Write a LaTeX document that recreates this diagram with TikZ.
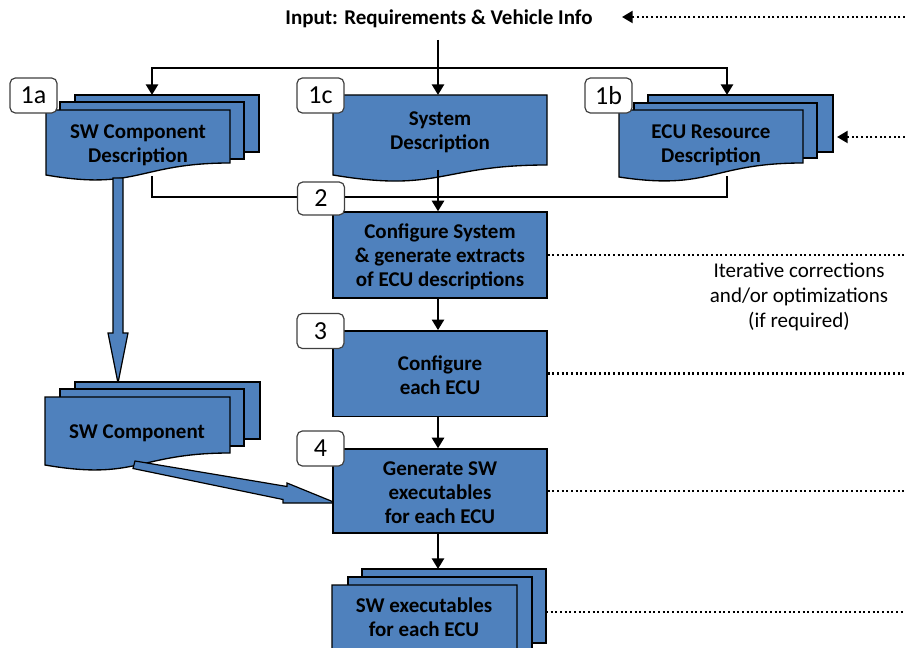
\documentclass[tikz,border=0pt]{standalone}
\usepackage{fontspec}
\setmainfont{Carlito}
\usetikzlibrary{arrows.meta}
\definecolor{docblue}{HTML}{4F81BD}
\definecolor{taggray}{HTML}{404040}

% front sheet of a document symbol: x, top, width, right bottom, left bottom
\newcommand\wavesheet[5]{%
  \filldraw[layer] (#1,#2) -- (#1+#3,#2) -- (#1+#3,#4)
    .. controls (#1+#3/2,#4) and (#1+#3/2,#4+28) .. (#1,#5) -- cycle;}
% plain back sheet: x1, y1, x2, y2
\newcommand\backsheet[4]{%
  \filldraw[layer] (#1,#2) rectangle (#3,#4);}

\begin{document}
\begin{tikzpicture}[x=0.75pt,y=-0.75pt,
  layer/.style={draw=black, line width=1pt, fill=docblue, line join=miter},
  box/.style={draw=black, line width=1pt, fill=docblue, inner sep=0pt,
    minimum width=160.5pt, txt},
  txt/.style={font=\fontsize{15.75}{18}\selectfont\bfseries, align=center, text=black},
  plain/.style={font=\fontsize{15.75}{18.75}\selectfont, align=center, text=black},
  link/.style={line width=2pt, line join=miter},
  flow/.style={link, -{Triangle[length=8pt,width=9pt]}},
  dots/.style={line width=1.6pt, dash pattern=on 1.4pt off 2.1pt},
  dotflow/.style={dots, -{Triangle[length=8pt,width=9pt]}},
  tag/.style={draw=taggray, line width=0.9pt, fill=white, rounded corners=4pt,
    minimum width=35.25pt, minimum height=26.25pt, inner sep=0pt,
    font=\fontsize{19.5}{21}\selectfont},
  blockarrow/.style={draw=black, line width=0.9pt, fill=docblue, line join=miter}
]
\useasboundingbox (0,0) rectangle (905,648);

% ---- input line ----
\node[txt] (input) at (439,18.5) {Input: Requirements \& Vehicle Info};
\coordinate (in-foot) at (438,40);
\coordinate (split) at (438,68);
\coordinate (in-tip) at (622,17);
\coordinate (in-east) at (905,17);
\coordinate (edge) at (905,0);

% ---- 1a: SW component description (stack) ----
\backsheet{75}{95}{259}{152}
\backsheet{60}{102}{244}{159}
\wavesheet{46}{110}{184}{163}{175}
\node[txt] (swcd) at (138,145.5) {SW Component\\Description};
\coordinate (swcd-top) at (152,95);
\coordinate (swcd-bot) at (152,176);

% ---- 1c: system description ----
\wavesheet{333}{95}{214}{165}{175}
\node[txt] (sysd) at (440,132) {System\\Description};
\coordinate (sysd-top) at (438,95);
\coordinate (sysd-bot) at (438,170);

% ---- 1b: ECU resource description (stack) ----
\backsheet{648}{95}{833}{152}
\backsheet{634}{103}{817}{158}
\wavesheet{619}{110}{184}{163}{177}
\node[txt] (ecud) at (711,145.5) {ECU Resource\\Description};
\coordinate (ecud-top) at (727,95);
\coordinate (ecud-bot) at (727,176);
\coordinate (ecud-tip) at (837,137);
\coordinate (ecud-east) at (905,137);
\coordinate (row) at (0,197);

% ---- block arrow down to the SW component ----
\filldraw[blockarrow] (113,178) -- (123,178) -- (123,333) -- (128,333)
  -- (118,383) -- (108,333) -- (113,333) -- cycle;

% ---- SW component (stack) ----
\backsheet{75}{382}{260}{439}
\backsheet{60}{389}{244}{446}
\wavesheet{45}{397}{185}{453}{465}
\node[txt] (swc) at (137,433) {SW Component};

% ---- block arrow into step 4 ----
\filldraw[blockarrow] (135,461) -- (287,486.5) -- (287,483) -- (336,503)
  -- (283,503) -- (283,499.5) -- (133,468.5) -- cycle;

% ---- process steps ----
\node[box, minimum height=64.5pt] (cfg) at (440,255) {};
\node[txt] (cfg-text) at (440,257)
  {Configure System\\\& generate extracts\\of ECU descriptions};
\node[box, minimum height=64pt] (ecu) at (440,373.5) {};
\node[txt] (ecu-text) at (440,375.5) {Configure\\each ECU};
\node[box, minimum height=63pt] (gen) at (440,491) {};
\node[txt] (gen-text) at (440,493) {Generate SW\\executables\\for each ECU};

% ---- SW executables (stack) ----
\backsheet{362}{569}{546}{643}
\backsheet{348}{577}{532}{652}
\wavesheet{332}{585}{185}{652}{664}
\node[txt] (exe) at (424,617) {SW executables\\for each ECU};
\coordinate (exe-top) at (438,569);
\coordinate (exe-east) at (546,612);

% ---- solid connectors ----
\draw[link] (in-foot) -- (split);
\draw[flow] (split) -| (swcd-top);
\draw[flow] (split) -| (ecud-top);
\draw[flow] (split) -- (sysd-top);
\draw[link] (swcd-bot) |- (ecud-bot |- row) -- (ecud-bot);
\draw[flow] (sysd-bot) -- (sysd-bot |- cfg.north);
\draw[flow] (sysd-bot |- cfg.south) -- (sysd-bot |- ecu.north);
\draw[flow] (sysd-bot |- ecu.south) -- (sysd-bot |- gen.north);
\draw[flow] (sysd-bot |- gen.south) -- (exe-top);

% ---- iteration feedback (dotted) ----
\draw[dotflow] (in-east) -- (in-tip);
\draw[dotflow] (ecud-east) -- (ecud-tip);
\draw[dots] (cfg.east) -- (cfg.east -| edge);
\draw[dots] (ecu.east) -- (ecu.east -| edge);
\draw[dots] (gen.east) -- (gen.east -| edge);
\draw[dots] (exe-east) -- (exe-east -| edge);
\node[plain] (iter) at (799,297)
  {Iterative corrections\\and/or optimizations\\(if required)};

% ---- step tags ----
\node[tag] (t1a) at (33.5,95.5) {1a};
\node[tag] (t1c) at (320.5,95.5) {1c};
\node[tag] (t1b) at (608.5,95.5) {1b};
\node[tag, minimum height=24.75pt] (t2) at (321,198.5) {2};
\node[tag] (t3) at (320.5,331) {3};
\node[tag] (t4) at (320.5,448.5) {4};
\end{tikzpicture}
\end{document}
